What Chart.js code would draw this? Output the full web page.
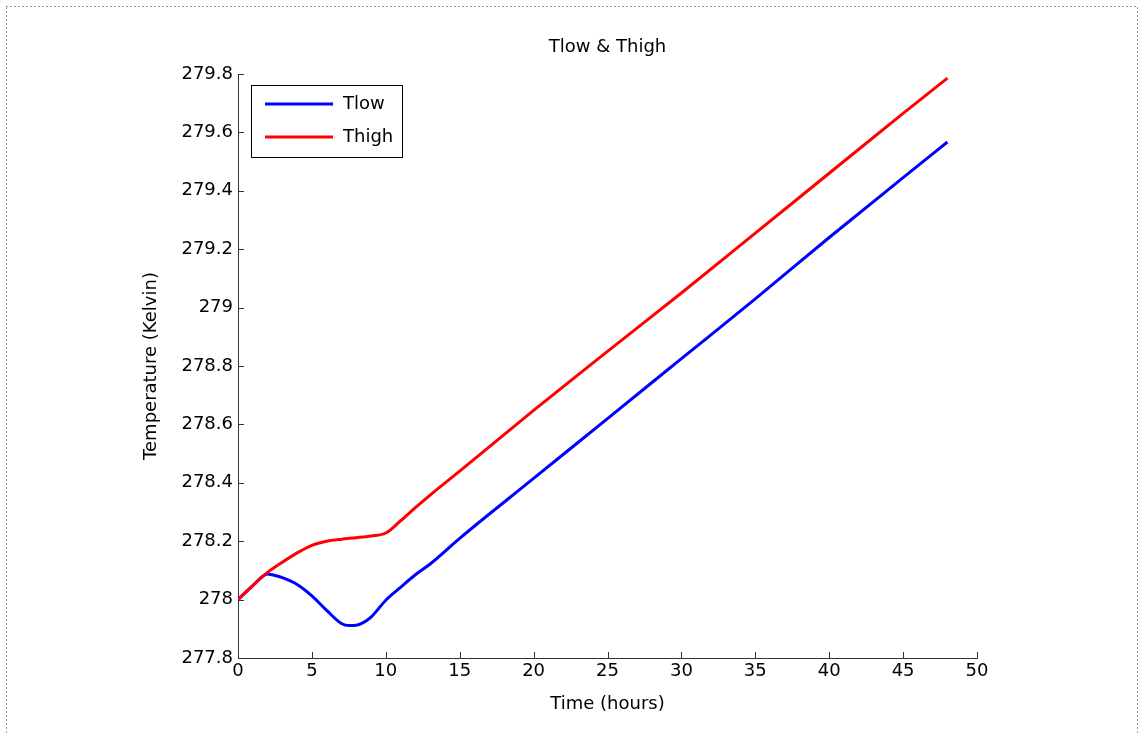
<!DOCTYPE html>
<html>
<head>
<meta charset="utf-8">
<title>Tlow & Thigh</title>
<script src="https://cdn.jsdelivr.net/npm/chart.js@4"></script>
<style>
  html, body { margin: 0; padding: 0; background: #fff; }
  #chart { display: block; }
</style>
</head>
<body>
<canvas id="chart" width="1139" height="735"></canvas>
<script>
// data
const lowHours = [0, 1, 2, 2.3, 3, 4, 5, 6, 7, 7.5, 8, 8.5, 9, 10, 11, 12, 13, 15, 20, 25, 30, 35, 40, 45, 48];
const lowTemps = [278.000, 278.048, 278.088, 278.085, 278.075, 278.052, 278.013, 277.963, 277.918, 277.911, 277.912, 277.922, 277.940, 277.998, 278.042, 278.085, 278.122, 278.210, 278.415, 278.620, 278.825, 279.030, 279.240, 279.445, 279.567];

const highHours = [0, 1, 2, 3, 4, 5, 6, 7, 8, 9, 10, 11, 12, 13, 15, 20, 25, 30, 35, 40, 45, 48];
const highTemps = [278.000, 278.048, 278.093, 278.128, 278.160, 278.186, 278.200, 278.207, 278.212, 278.218, 278.228, 278.270, 278.315, 278.358, 278.440, 278.648, 278.850, 279.050, 279.255, 279.460, 279.665, 279.786];

const xTicks = [0, 5, 10, 15, 20, 25, 30, 35, 40, 45, 50];
const yTicks = [277.8, 278, 278.2, 278.4, 278.6, 278.8, 279, 279.2, 279.4, 279.6, 279.8];

const FONT = "'DejaVu Sans', sans-serif";

function toPoints(xs, ys) {
  return xs.map((x, i) => ({ x: x, y: ys[i] }));
}

// dotted figure frame
const framePlugin = {
  id: 'frame',
  beforeDraw(chart) {
    const ctx = chart.ctx;
    ctx.save();
    ctx.strokeStyle = '#333';
    ctx.lineWidth = 1;
    ctx.setLineDash([1, 3]);
    ctx.strokeRect(6.5, 6.5, 1131, 740);
    ctx.restore();
  }
};

// MATLAB style inward ticks
const innerTicks = {
  id: 'innerTicks',
  afterDraw(chart) {
    const ctx = chart.ctx;
    const xs = chart.scales.x, ys = chart.scales.y;
    ctx.save();
    ctx.strokeStyle = '#333';
    ctx.lineWidth = 1;
    xs.ticks.forEach(t => {
      const px = Math.round(xs.getPixelForValue(t.value)) + 0.5;
      ctx.beginPath();
      ctx.moveTo(px, xs.top);
      ctx.lineTo(px, xs.top - 6);
      ctx.stroke();
    });
    ys.ticks.forEach(t => {
      const py = Math.round(ys.getPixelForValue(t.value)) + 0.5;
      ctx.beginPath();
      ctx.moveTo(ys.right, py);
      ctx.lineTo(ys.right + 6, py);
      ctx.stroke();
    });
    ctx.restore();
  }
};

// boxed legend in the upper left of the axes
const boxLegend = {
  id: 'boxLegend',
  afterDraw(chart) {
    const ctx = chart.ctx;
    const area = chart.chartArea;
    const left = area.left + 13, top = area.top + 11;
    ctx.save();
    ctx.fillStyle = '#fff';
    ctx.fillRect(left, top, 151, 72);
    ctx.strokeStyle = '#000';
    ctx.lineWidth = 1;
    ctx.strokeRect(left + 0.5, top + 0.5, 151, 72);
    chart.data.datasets.forEach((ds, i) => {
      const y = top + 19 + i * 33;
      ctx.strokeStyle = ds.borderColor;
      ctx.lineWidth = 3;
      ctx.beginPath();
      ctx.moveTo(left + 14, y);
      ctx.lineTo(left + 82, y);
      ctx.stroke();
      ctx.fillStyle = '#000';
      ctx.font = "18px " + FONT;
      ctx.textBaseline = 'middle';
      ctx.fillText(ds.label, left + 92, y);
    });
    ctx.restore();
  }
};

new Chart(document.getElementById('chart').getContext('2d'), {
  type: 'line',
  data: {
    datasets: [
      {
        label: 'Tlow',
        data: toPoints(lowHours, lowTemps),
        borderColor: '#0000ff',
        borderWidth: 3,
        pointRadius: 0,
        cubicInterpolationMode: 'monotone',
        order: 1
      },
      {
        label: 'Thigh',
        data: toPoints(highHours, highTemps),
        borderColor: '#ff0000',
        borderWidth: 3,
        pointRadius: 0,
        cubicInterpolationMode: 'monotone',
        order: 0
      }
    ]
  },
  options: {
    responsive: false,
    animation: false,
    devicePixelRatio: 1,
    layout: { padding: { left: 0, right: 162, top: 0, bottom: 0 } },
    plugins: {
      legend: { display: false },
      tooltip: { enabled: false },
      title: {
        display: true,
        fullSize: false,
        text: 'Tlow & Thigh',
        color: '#000',
        font: { family: FONT, size: 18, weight: 'normal' },
        padding: { top: 37, bottom: 15.4 }
      }
    },
    scales: {
      x: {
        type: 'linear',
        min: 0,
        max: 50,
        afterBuildTicks: s => { s.ticks = xTicks.map(v => ({ value: v })); },
        afterFit: s => { s.height = 77; },
        grid: { display: false, drawTicks: false },
        border: { display: true, color: '#333', width: 1 },
        ticks: {
          color: '#000',
          padding: 3,
          maxRotation: 0,
          font: { family: FONT, size: 18 },
          callback: v => String(v)
        },
        title: {
          display: true,
          text: 'Time (hours)',
          color: '#000',
          font: { family: FONT, size: 18 },
          padding: { top: 0, bottom: 20 }
        }
      },
      y: {
        type: 'linear',
        min: 277.8,
        max: 279.8,
        afterBuildTicks: s => { s.ticks = yTicks.map(v => ({ value: v })); },
        afterFit: s => { s.width = 238; },
        grid: { display: false, drawTicks: false },
        border: { display: true, color: '#333', width: 1 },
        ticks: {
          color: '#000',
          padding: 5,
          font: { family: FONT, size: 18 },
          callback: v => String(Number(v.toFixed(1)))
        },
        title: {
          display: true,
          text: 'Temperature (Kelvin)',
          color: '#000',
          font: { family: FONT, size: 18 },
          padding: { top: 141, bottom: 0 }
        }
      }
    }
  },
  plugins: [framePlugin, innerTicks, boxLegend]
});
</script>
</body>
</html>
